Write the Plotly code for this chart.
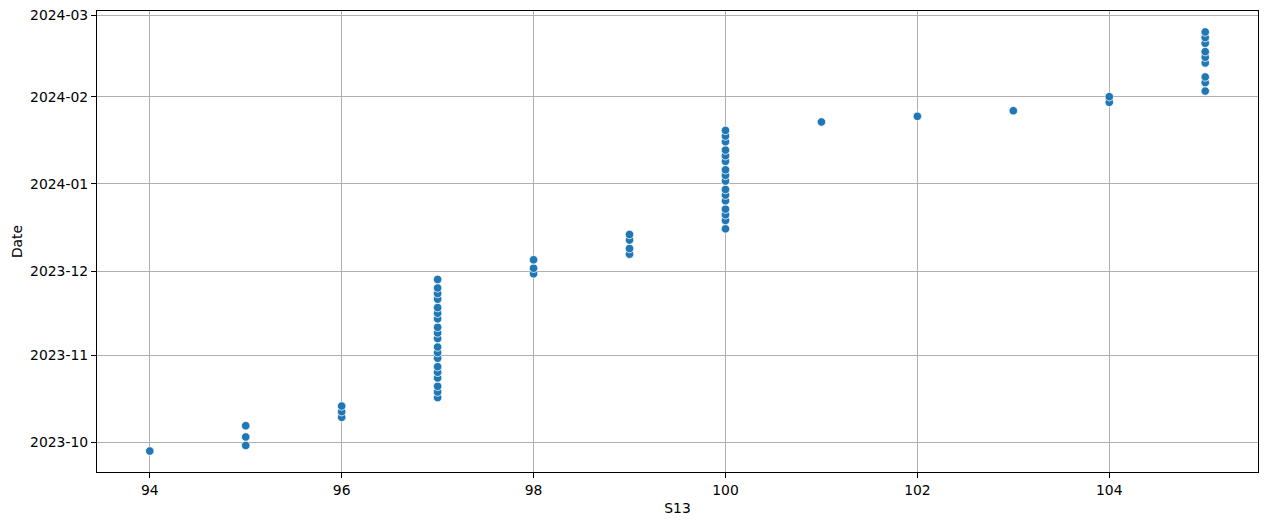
import plotly.graph_objects as go

s13 = (
    [94]
    + [95] * 3
    + [96] * 3
    + [97] * 19
    + [98] * 3
    + [99] * 4
    + [100] * 16
    + [101, 102, 103]
    + [104] * 2
    + [105] * 9
)

dates = [
    "2023-09-28",
    "2023-09-30", "2023-10-03", "2023-10-07",
    "2023-10-10", "2023-10-12", "2023-10-14",
    "2023-10-17", "2023-10-19", "2023-10-21", "2023-10-24", "2023-10-26",
    "2023-10-28", "2023-10-31", "2023-11-02", "2023-11-04", "2023-11-07",
    "2023-11-09", "2023-11-11", "2023-11-14", "2023-11-16", "2023-11-18",
    "2023-11-21", "2023-11-23", "2023-11-25", "2023-11-28",
    "2023-11-30", "2023-12-02", "2023-12-05",
    "2023-12-07", "2023-12-09", "2023-12-12", "2023-12-14",
    "2023-12-16", "2023-12-19", "2023-12-21", "2023-12-23", "2023-12-26",
    "2023-12-28", "2023-12-30", "2024-01-02", "2024-01-04", "2024-01-06",
    "2024-01-09", "2024-01-11", "2024-01-13", "2024-01-16", "2024-01-18",
    "2024-01-20",
    "2024-01-23", "2024-01-25", "2024-01-27",
    "2024-01-30", "2024-02-01",
    "2024-02-03", "2024-02-06", "2024-02-08", "2024-02-13", "2024-02-15",
    "2024-02-17", "2024-02-20", "2024-02-22", "2024-02-24",
]

x_ticks = [94, 96, 98, 100, 102, 104]
y_ticks = ["2023-10-01", "2023-11-01", "2023-12-01",
           "2024-01-01", "2024-02-01", "2024-03-01"]

FONT = "DejaVu Sans"

fig = go.Figure(go.Scatter(
    x=s13, y=dates,
    mode="markers",
    marker=dict(color="#1f77b4", size=8.5, line=dict(color="white", width=0.75)),
    hovertemplate="S13: %{x}<br>Date: %{y}<extra></extra>",
))

axis_common = dict(
    showline=True, mirror=True, linecolor="black", linewidth=1.1,
    showgrid=True, gridcolor="#b0b0b0", gridwidth=1.1,
    ticks="outside", ticklen=5, tickwidth=1.1, tickcolor="black",
    zeroline=False, automargin=False,
    tickfont=dict(family=FONT, size=13.9, color="black"),
)

fig.update_layout(
    width=1269, height=526,
    paper_bgcolor="white", plot_bgcolor="white",
    margin=dict(l=97, r=11, t=11, b=54),
    showlegend=False,
    font=dict(family=FONT, size=13.9, color="black"),
    xaxis=dict(
        **axis_common,
        range=[93.45, 105.55],
        tickvals=x_ticks,
        title=dict(text="S13", font=dict(family=FONT, size=13.9), standoff=6),
    ),
    yaxis=dict(
        **axis_common,
        type="date",
        range=["2023-09-20 13:12", "2024-03-02 10:48"],
        tickvals=y_ticks,
        tickformat="%Y-%m",
        title=dict(text="Date", font=dict(family=FONT, size=13.9), standoff=4),
    ),
)

# remove the page's default body margin so the figure sits at the window origin
fig.write_html(
    "out.html",
    config={"displayModeBar": False},
    post_script="document.body.style.margin='0';",
)
